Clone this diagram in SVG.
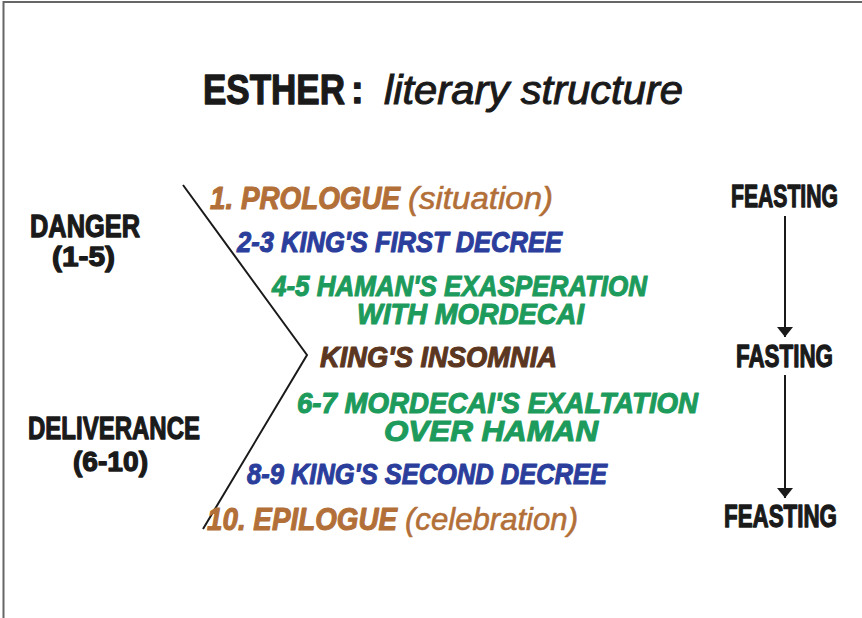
<svg xmlns="http://www.w3.org/2000/svg" width="862" height="618" viewBox="0 0 862 618">
<style>
.blk{font-family:"Liberation Sans",Arial,sans-serif;font-weight:bold;fill:#1a1a1a;stroke:#1a1a1a;stroke-width:1.3;stroke-linejoin:round}
.hand{font-family:"Liberation Sans",Arial,sans-serif;font-weight:bold;font-style:italic;stroke-width:1.1;stroke-linejoin:round}
.lite{font-weight:normal;stroke-width:0.6}
.brown{fill:#b26f38;stroke:#b26f38}
.blue{fill:#2b3e9c;stroke:#2b3e9c}
.green{fill:#1d9b5c;stroke:#1d9b5c}
.dark{fill:#5b3621;stroke:#5b3621}
.ln{stroke:#1a1a1a;stroke-width:2;fill:none}
</style>
<defs>
<marker id="ah" markerWidth="10" markerHeight="16" refX="10" refY="8" orient="auto" markerUnits="userSpaceOnUse">
<path d="M0,0 L10,8 L0,16 Z" fill="#1a1a1a"/>
</marker>
</defs>
<rect width="862" height="618" fill="#fff"/>
<path d="M3.5,618 V2 H862" fill="none" stroke="#666" stroke-width="2"/>

<g id="title">
<text class="blk" x="203" y="104" font-size="43" textLength="142" lengthAdjust="spacingAndGlyphs">ESTHER</text>
<text class="blk" x="351" y="103" font-size="38">:</text>
<text x="384" y="104" font-family="'Liberation Sans',Arial,sans-serif" font-style="italic" font-size="40" fill="#1a1a1a" stroke="#1a1a1a" stroke-width="1" textLength="299" lengthAdjust="spacingAndGlyphs">literary structure</text>
</g>

<g id="danger">
<text class="blk" x="30" y="237" font-size="32" textLength="110" lengthAdjust="spacingAndGlyphs">DANGER</text>
<text class="blk" x="52" y="266" font-size="28" stroke-width="0.4" textLength="63" lengthAdjust="spacingAndGlyphs">(1-5)</text>
</g>
<g id="deliverance">
<text class="blk" x="28" y="439" font-size="32" textLength="172" lengthAdjust="spacingAndGlyphs">DELIVERANCE</text>
<text class="blk" x="73" y="471" font-size="28" stroke-width="0.4" textLength="75" lengthAdjust="spacingAndGlyphs">(6-10)</text>
</g>

<g id="connectors">
<polyline class="ln" points="183,185 307,355 203,529"/>
<line class="ln" x1="785" y1="216" x2="785" y2="337" marker-end="url(#ah)"/>
<line class="ln" x1="785" y1="375" x2="785" y2="498" marker-end="url(#ah)"/>
</g>

<g id="prologue">
<text class="hand brown" x="210" y="209" font-size="32"><tspan textLength="190" lengthAdjust="spacingAndGlyphs">1. PROLOGUE</tspan><tspan class="lite" dx="8" textLength="145" lengthAdjust="spacingAndGlyphs">(situation)</tspan></text>
</g>
<g id="first-decree">
<text class="hand blue" x="237" y="252" font-size="29" textLength="325" lengthAdjust="spacingAndGlyphs">2-3 KING'S FIRST DECREE</text>
</g>
<g id="exasperation">
<text class="hand green" x="272" y="296" font-size="29" textLength="375" lengthAdjust="spacingAndGlyphs">4-5 HAMAN'S EXASPERATION</text>
<text class="hand green" x="357" y="324" font-size="29" textLength="227" lengthAdjust="spacingAndGlyphs">WITH MORDECAI</text>
</g>
<g id="insomnia">
<text class="hand dark" x="320" y="367" font-size="29" textLength="237" lengthAdjust="spacingAndGlyphs">KING'S  INSOMNIA</text>
</g>
<g id="exaltation">
<text class="hand green" x="297" y="413" font-size="29" textLength="401" lengthAdjust="spacingAndGlyphs">6-7 MORDECAI'S  EXALTATION</text>
<text class="hand green" x="384" y="441" font-size="29" textLength="214" lengthAdjust="spacingAndGlyphs">OVER HAMAN</text>
</g>
<g id="second-decree">
<text class="hand blue" x="247" y="484" font-size="29" textLength="360" lengthAdjust="spacingAndGlyphs">8-9 KING'S SECOND DECREE</text>
</g>
<g id="epilogue">
<text class="hand brown" x="207" y="530" font-size="32"><tspan textLength="190" lengthAdjust="spacingAndGlyphs">10. EPILOGUE</tspan><tspan class="lite" dx="8" textLength="173" lengthAdjust="spacingAndGlyphs">(celebration)</tspan></text>
</g>

<g id="feasting1">
<text class="blk" x="731" y="207" font-size="31" textLength="107" lengthAdjust="spacingAndGlyphs">FEASTING</text>
</g>
<g id="fasting">
<text class="blk" x="736" y="367" font-size="31" textLength="97" lengthAdjust="spacingAndGlyphs">FASTING</text>
</g>
<g id="feasting2">
<text class="blk" x="724" y="527" font-size="31" textLength="113" lengthAdjust="spacingAndGlyphs">FEASTING</text>
</g>
</svg>
